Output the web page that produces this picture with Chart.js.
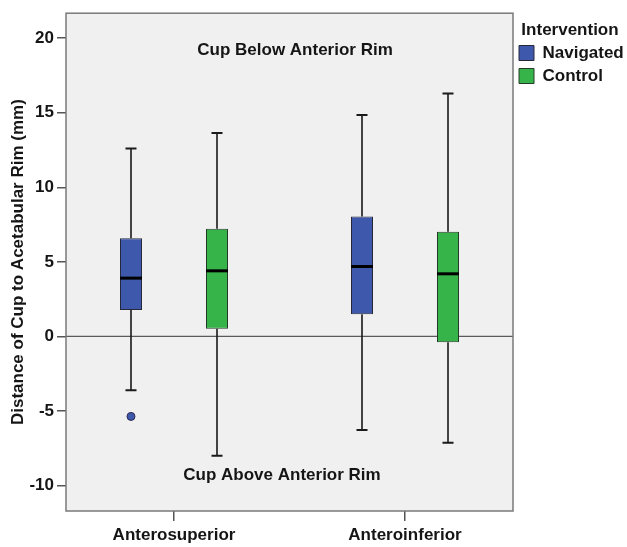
<!DOCTYPE html>
<html>
<head>
<meta charset="utf-8">
<script src="https://cdn.jsdelivr.net/npm/chart.js@4.4.1/dist/chart.umd.min.js"></script>
<style>
  html, body { margin: 0; padding: 0; background: #ffffff; }
  #wrap { width: 627px; height: 547px; }
</style>
</head>
<body>
<div id="wrap"><canvas id="c" width="627" height="547"></canvas></div>
<script>
// ---- data ----
const categories = ['Anterosuperior', 'Anteroinferior'];
const seriesNames = ['Navigated', 'Control'];
const yTicks = [-10, -5, 0, 5, 10, 15, 20];

const navMin    = [-3.6, -6.27];
const navQ1     = [1.78, 1.49];
const navMedian = [3.91, 4.69];
const navQ3     = [6.58, 8.04];
const navMax    = [12.6, 14.84];
const navOutliers = [[-5.36], []];

const ctlMin    = [-8.0, -7.13];
const ctlQ1     = [0.51, -0.38];
const ctlMedian = [4.4, 4.2];
const ctlQ3     = [7.22, 7.02];
const ctlMax    = [13.64, 16.29];
const ctlOutliers = [[], []];

const annotationTexts = ['Cup Below Anterior Rim', 'Cup Above Anterior Rim'];

// ---- styles ----
const FONT = "'Liberation Sans', Arial, Helvetica, sans-serif";
const TXT = '#151515';
const BLUE = '#3e58ac';
const GREEN = '#36b449';

function boxData(q1, q3) {
  return categories.map((c, i) => ({ x: i, y: [q1[i], q3[i]] }));
}

const boxPlugin = {
  id: 'boxExtras',
  beforeDraw(chart) {
    const { ctx, chartArea: a } = chart;
    ctx.save();
    ctx.fillStyle = '#f0f0f0';
    ctx.fillRect(a.left, a.top, a.right - a.left, a.bottom - a.top);
    ctx.restore();
  },
  beforeDatasetsDraw(chart) {
    const { ctx, chartArea: a, scales: { x, y } } = chart;
    ctx.save();
    // zero reference line
    const y0 = y.getPixelForValue(0);
    ctx.strokeStyle = '#5a5a5a';
    ctx.lineWidth = 1.3;
    ctx.beginPath();
    ctx.moveTo(a.left, y0);
    ctx.lineTo(a.right, y0);
    ctx.stroke();
    // frame
    ctx.strokeStyle = '#7a7a7a';
    ctx.lineWidth = 1.5;
    ctx.strokeRect(a.left, a.top, a.right - a.left, a.bottom - a.top);
    // whiskers
    chart.data.datasets.forEach((ds, di) => {
      const st = ds.stats;
      if (!st) return;
      const meta = chart.getDatasetMeta(di);
      meta.data.forEach((bar, i) => {
        const cx = bar.x;
        const pMin = y.getPixelForValue(st.min[i]);
        const pMax = y.getPixelForValue(st.max[i]);
        const pQ1 = y.getPixelForValue(st.q1[i]);
        const pQ3 = y.getPixelForValue(st.q3[i]);
        ctx.strokeStyle = '#1a1a1a';
        ctx.lineWidth = 1.6;
        ctx.beginPath();
        ctx.moveTo(cx, pQ3); ctx.lineTo(cx, pMax);
        ctx.moveTo(cx, pQ1); ctx.lineTo(cx, pMin);
        ctx.stroke();
        ctx.lineWidth = 2;
        const half = 5.5;
        ctx.beginPath();
        ctx.moveTo(cx - half, pMax); ctx.lineTo(cx + half, pMax);
        ctx.moveTo(cx - half, pMin); ctx.lineTo(cx + half, pMin);
        ctx.stroke();
      });
    });
    ctx.restore();
  },
  afterDatasetsDraw(chart) {
    const { ctx, scales: { x, y } } = chart;
    ctx.save();
    chart.data.datasets.forEach((ds, di) => {
      const st = ds.stats;
      if (!st) return;
      const meta = chart.getDatasetMeta(di);
      meta.data.forEach((bar, i) => {
        const cx = bar.x;
        const w = bar.width;
        const pMed = y.getPixelForValue(st.median[i]);
        ctx.strokeStyle = '#000';
        ctx.lineWidth = 3;
        ctx.beginPath();
        ctx.moveTo(cx - w / 2, pMed); ctx.lineTo(cx + w / 2, pMed);
        ctx.stroke();
        (st.outliers[i] || []).forEach(v => {
          ctx.beginPath();
          ctx.arc(cx, y.getPixelForValue(v), 4, 0, Math.PI * 2);
          ctx.fillStyle = ds.backgroundColor;
          ctx.fill();
          ctx.strokeStyle = '#2a2a50';
          ctx.lineWidth = 1;
          ctx.stroke();
        });
      });
    });
    // annotation texts (positioned in data coordinates)
    const ann = chart.options.plugins.boxExtras.annotations;
    ctx.fillStyle = TXT;
    ctx.font = "bold 17px " + FONT;
    ctx.textAlign = 'center';
    ctx.textBaseline = 'middle';
    ann.forEach(a => {
      ctx.fillText(a.text, x.getPixelForValue(a.x), y.getPixelForValue(a.y));
    });
    ctx.restore();
  }
};

new Chart(document.getElementById('c'), {
  type: 'bar',
  data: {
    datasets: [
      {
        label: seriesNames[0],
        data: boxData(navQ1, navQ3),
        backgroundColor: BLUE,
        borderColor: '#26283a',
        borderWidth: 1,
        borderSkipped: false,
        stats: { min: navMin, q1: navQ1, median: navMedian, q3: navQ3, max: navMax, outliers: navOutliers }
      },
      {
        label: seriesNames[1],
        data: boxData(ctlQ1, ctlQ3),
        backgroundColor: GREEN,
        borderColor: '#243a28',
        borderWidth: 1,
        borderSkipped: false,
        stats: { min: ctlMin, q1: ctlQ1, median: ctlMedian, q3: ctlQ3, max: ctlMax, outliers: ctlOutliers }
      }
    ]
  },
  options: {
    responsive: false,
    animation: false,
    events: [],
    categoryPercentage: 0.7446,
    barPercentage: 0.2558,
    layout: { padding: { top: 10, left: 0, right: 0, bottom: 0 } },
    scales: {
      x: {
        type: 'linear',
        offset: false,
        min: -0.4675,
        max: 1.4675,
        afterBuildTicks(axis) { axis.ticks = categories.map((c, i) => ({ value: i })); },
        afterFit(axis) { axis.height = 36; },
        ticks: {
          includeBounds: false,
          autoSkip: false,
          maxRotation: 0,
          padding: 4,
          color: TXT,
          font: { family: FONT, size: 17, weight: 'bold' },
          callback: (v) => categories[v]
        },
        grid: { display: true, offset: false, drawOnChartArea: false, drawTicks: true, tickLength: 10, color: '#555', lineWidth: 1.5 },
        border: { display: false }
      },
      y: {
        type: 'linear',
        min: -11.7,
        max: 21.67,
        afterBuildTicks(axis) { axis.ticks = yTicks.map(v => ({ value: v })); },
        afterFit(axis) { axis.width = 66; },
        ticks: {
          includeBounds: false,
          padding: 3,
          color: TXT,
          font: { family: FONT, size: 17, weight: 'bold' }
        },
        grid: { display: true, drawOnChartArea: false, drawTicks: true, tickLength: 9, color: '#555', lineWidth: 1.5 },
        border: { display: false },
        title: {
          display: true,
          text: 'Distance of Cup to Acetabular Rim (mm)',
          color: TXT,
          font: { family: FONT, size: 17, weight: 'bold' },
          padding: { top: 8, bottom: 0 }
        }
      }
    },
    plugins: {
      tooltip: { enabled: false },
      legend: {
        position: 'right',
        align: 'start',
        maxWidth: 114,
        title: {
          display: true,
          text: 'Intervention',
          position: 'center',
          color: TXT,
          font: { family: FONT, size: 17, weight: 'bold', lineHeight: 1 },
          padding: { top: 11.5, bottom: 0 }
        },
        labels: {
          boxWidth: 15,
          boxHeight: 15,
          padding: 6,
          color: TXT,
          font: { family: FONT, size: 17, weight: 'bold' }
        }
      },
      boxExtras: {
        annotations: [
          { text: annotationTexts[0], x: 0.524, y: 19.2 },
          { text: annotationTexts[1], x: 0.4675, y: -9.33 }
        ]
      }
    }
  },
  plugins: [boxPlugin]
});
</script>
</body>
</html>
